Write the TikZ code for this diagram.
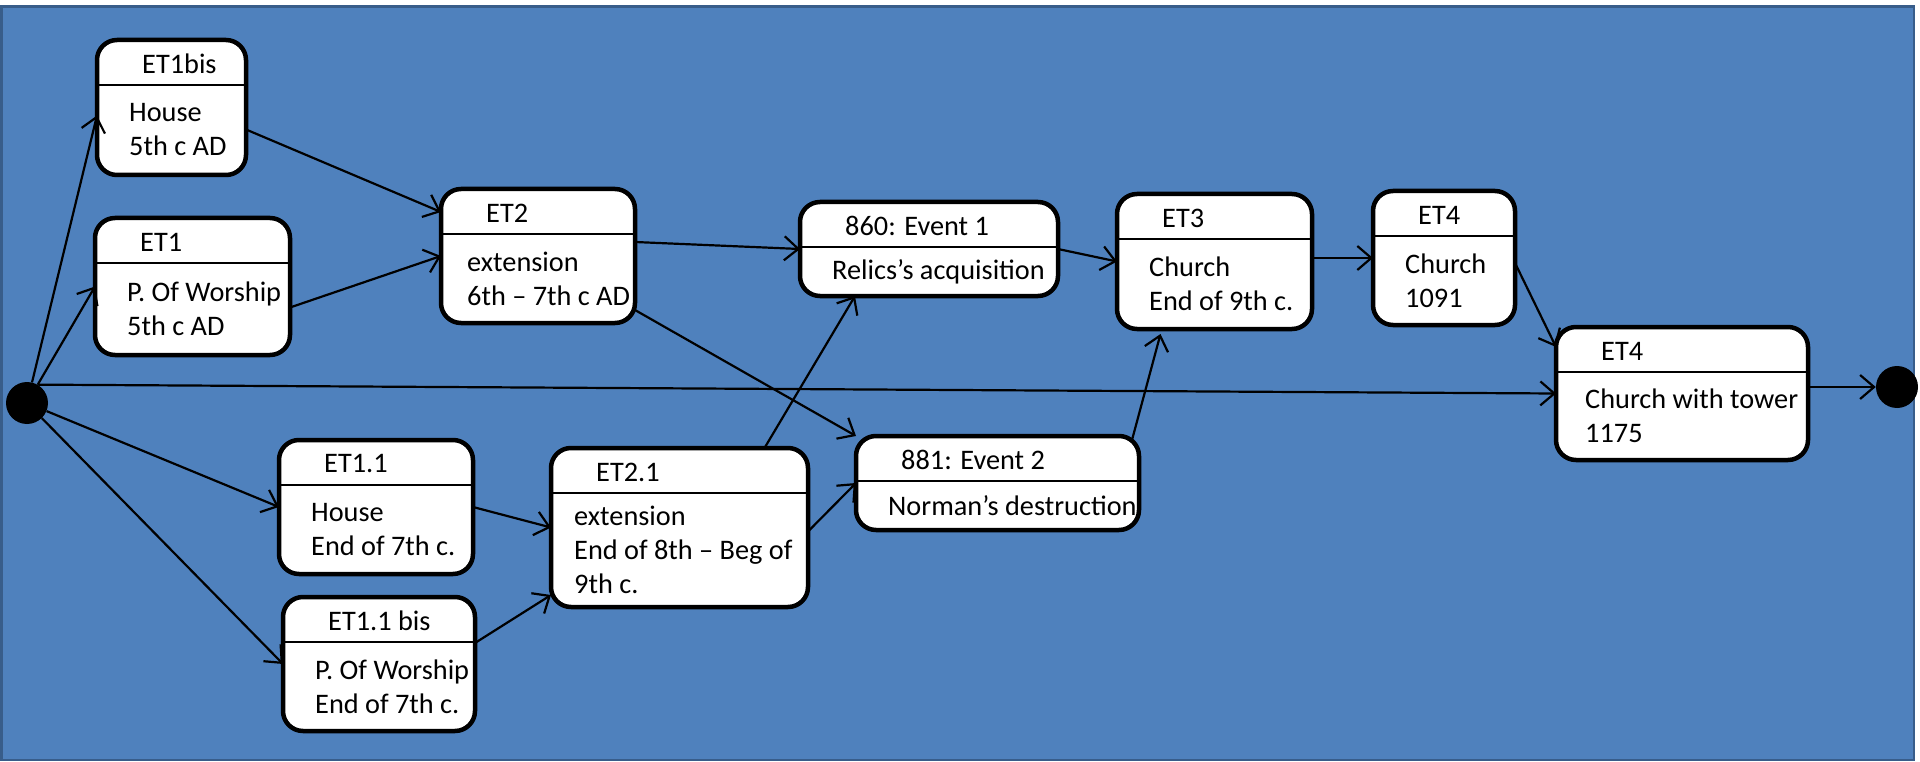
\documentclass[tikz,border=0pt]{standalone}
\usepackage{fontspec}
\setmainfont{Carlito}
\usetikzlibrary{arrows.meta}

\definecolor{framefill}{HTML}{4F81BD}
\definecolor{frameline}{HTML}{385D8A}

\tikzset{
  etbox/.style={draw, fill=white, line width=4.5pt, rounded corners=20pt, inner sep=0pt, outer sep=0pt},
  etsplit/.style={line width=2pt},
  ettext/.style={font=\fontsize{28.3}{34}\selectfont, inner sep=0pt, anchor=west, align=left},
  flow/.style={line width=2.2pt, -{Straight Barb[length=14pt,width=24pt]}},
  pseudo/.style={circle, fill=black, minimum size=42pt, inner sep=0pt},
}

% state box: [body indent] name, left, top, width, height, title, body
\newcommand\etstate[8][32]{%
  \node[etbox, minimum width=#5pt, minimum height=#6pt] (#2) at ({#3+#5/2},{#4+#6/2}) {};
  \draw[etsplit] ([yshift=-45pt]#2.north west) -- ([yshift=-45pt]#2.north east);
  \node[ettext] (#2t) at ({#3+45},{#4+24}) {#7};
  \node[ettext] (#2b) at ({#3+#1},{#4+22.5+#6/2}) {#8};
}

\begin{document}
\begin{tikzpicture}[x=1pt, y=-1pt]
  \useasboundingbox (0,0) rectangle (1920,762);
  \fill[white] (0,0) rectangle (1920,762);
  \draw[frameline, fill=framefill, line width=2.5pt] (1.5,6.5) rectangle (1914,760);

  \node[pseudo] (init) at (27,403) {};
  \node[pseudo] (final) at (1897,387) {};

  \etstate{et1bis}{97}{40}{149}{135}{ET1bis}{House\\5th c AD}
  \etstate{et1}{95}{218}{195}{137}{ET1}{P. Of Worship\\5th c AD}
  \etstate[26]{et2}{441}{189}{194}{134}{ET2}{extension\\6th – 7th c AD}
  \etstate{ev1}{800}{202}{258}{94}{860: Event 1}{Relics’s acquisition}
  \etstate{et3}{1117}{194}{195}{135}{ET3}{Church\\End of 9th c.}
  \etstate{et4}{1373}{191}{142}{134}{ET4}{Church\\1091}
  \etstate[29]{et4t}{1556}{327}{252}{133}{ET4}{Church with tower\\1175}
  \etstate{et11}{279}{440}{194}{134}{ET1.1}{House\\End of 7th c.}
  \etstate{et11bis}{283}{597}{192}{134}{ET1.1 bis}{P. Of Worship\\End of 7th c.}
  \etstate[23]{et21}{551}{448}{257}{159}{ET2.1}{extension\\End of 8th – Beg of\\9th c.}
  \etstate{ev2}{856}{436}{283}{94}{881: Event 2}{Norman’s destruction}

  \draw[flow] (init) -- ([yshift=-8pt]et1bis.west);
  \draw[flow] (init) -- (et1.west);
  \draw[flow] (init.60) -- (et4t.west);
  \draw[flow] (init) -- (et11.west);
  \draw[flow] (init) -- (et11bis.west);
  \draw[flow] ([yshift=-22pt]et1bis.east) -- ([yshift=44pt]et2.west);
  \draw[flow] ([yshift=-21pt]et1.east) -- (et2.west);
  \draw[flow] ([yshift=14pt]et2.east) -- (ev1.west);
  \draw[flow] ([yshift=13pt]et2.south east) -- (ev2.north west);
  \draw[flow] (et11.east) -- (et21.west);
  \draw[flow] ([yshift=21pt]et11bis.east) -- ([yshift=12pt]et21.south west);
  \draw[flow] ([xshift=85pt]et21.north) -- ([xshift=-74pt]ev1.south);
  \draw[flow] ([yshift=-4pt]et21.east) -- (ev2.west);
  \draw[flow] (ev1.east) -- (et3.west);
  \draw[flow] ([xshift=-7pt,yshift=-4pt]ev2.north east) -- ([xshift=-54pt,yshift=-5pt]et3.south);
  \draw[flow] (et3.east |- et4.west) -- (et4.west);
  \draw[flow] ([yshift=-5pt]et4.east) -- ([yshift=-20pt]et4t.north west);
  \draw[flow] (et4t.east |- final) -- (final);
\end{tikzpicture}
\end{document}
